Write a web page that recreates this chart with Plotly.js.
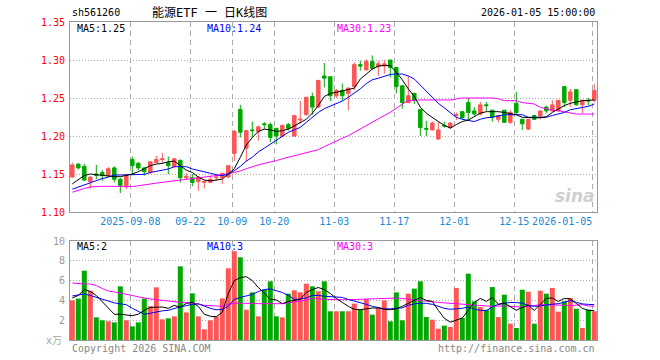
<!DOCTYPE html>
<html>
<head>
<meta charset="utf-8">
<script src="https://cdn.plot.ly/plotly-3.0.1.min.js"></script>
<style>html,body{margin:0;padding:0;background:#fff;}#chart{width:660px;height:360px;}</style>
</head>
<body>
<div id="chart"></div>
<script>
// ---- data ----
const dates = [
 '2025-08-25','2025-08-26','2025-08-27','2025-08-28','2025-08-29',
 '2025-09-01','2025-09-02','2025-09-03','2025-09-04','2025-09-05',
 '2025-09-08','2025-09-09','2025-09-10','2025-09-11','2025-09-12',
 '2025-09-15','2025-09-16','2025-09-17','2025-09-18','2025-09-19',
 '2025-09-22','2025-09-23','2025-09-24','2025-09-25','2025-09-26',
 '2025-09-29','2025-09-30','2025-10-09','2025-10-10','2025-10-13',
 '2025-10-14','2025-10-15','2025-10-16','2025-10-17','2025-10-20',
 '2025-10-21','2025-10-22','2025-10-23','2025-10-24','2025-10-27',
 '2025-10-28','2025-10-29','2025-10-30','2025-10-31','2025-11-03',
 '2025-11-04','2025-11-05','2025-11-06','2025-11-07','2025-11-10',
 '2025-11-11','2025-11-12','2025-11-13','2025-11-14','2025-11-17',
 '2025-11-18','2025-11-19','2025-11-20','2025-11-21','2025-11-24',
 '2025-11-25','2025-11-26','2025-11-27','2025-11-28','2025-12-01',
 '2025-12-02','2025-12-03','2025-12-04','2025-12-05','2025-12-08',
 '2025-12-09','2025-12-10','2025-12-11','2025-12-12','2025-12-15',
 '2025-12-16','2025-12-17','2025-12-18','2025-12-19','2025-12-22',
 '2025-12-23','2025-12-24','2025-12-25','2025-12-26','2025-12-29',
 '2025-12-30','2025-12-31','2026-01-05'];

const open = [1.146,1.163,1.160,1.140,1.150,1.152,1.148,1.158,1.143,1.133,
 1.169,1.164,1.158,1.152,1.165,1.169,1.165,1.160,1.168,1.145,
 1.145,1.140,1.139,1.139,1.145,1.145,1.146,1.177,1.235,1.184,
 1.208,1.206,1.216,1.215,1.210,1.200,1.215,1.200,1.221,1.228,
 1.252,1.238,1.279,1.278,1.253,1.260,1.256,1.265,1.294,1.287,
 1.298,1.291,1.292,1.300,1.290,1.266,1.244,1.256,1.235,1.210,
 1.208,1.196,1.214,1.211,1.227,1.232,1.244,1.233,1.229,1.241,
 1.234,1.222,1.234,1.218,1.243,1.222,1.209,1.227,1.226,1.238,
 1.233,1.233,1.265,1.247,1.261,1.241,1.247,1.247];
const high = [1.165,1.164,1.163,1.147,1.162,1.155,1.159,1.160,1.145,1.148,
 1.173,1.166,1.159,1.167,1.174,1.178,1.173,1.171,1.169,1.151,
 1.150,1.147,1.142,1.148,1.150,1.151,1.161,1.208,1.241,1.208,
 1.219,1.214,1.218,1.218,1.211,1.215,1.217,1.227,1.246,1.251,
 1.257,1.274,1.296,1.278,1.262,1.269,1.264,1.297,1.299,1.301,
 1.306,1.299,1.300,1.300,1.290,1.267,1.279,1.257,1.235,1.220,
 1.219,1.219,1.219,1.218,1.231,1.232,1.250,1.238,1.245,1.245,
 1.234,1.227,1.234,1.234,1.258,1.222,1.222,1.227,1.233,1.240,
 1.247,1.247,1.265,1.262,1.261,1.247,1.250,1.268];
const low = [1.145,1.156,1.141,1.131,1.143,1.141,1.146,1.139,1.125,1.130,
 1.149,1.155,1.148,1.150,1.164,1.164,1.150,1.158,1.139,1.143,
 1.134,1.128,1.131,1.138,1.141,1.137,1.145,1.167,1.198,1.166,
 1.198,1.194,1.209,1.192,1.189,1.198,1.207,1.199,1.216,1.227,
 1.228,1.237,1.264,1.246,1.250,1.246,1.234,1.260,1.286,1.286,
 1.287,1.279,1.282,1.277,1.256,1.236,1.243,1.242,1.200,1.200,
 1.207,1.195,1.211,1.209,1.221,1.222,1.221,1.227,1.227,1.233,
 1.219,1.218,1.217,1.216,1.229,1.208,1.208,1.221,1.222,1.230,
 1.232,1.232,1.238,1.238,1.240,1.230,1.240,1.244];
const close = [1.162,1.158,1.142,1.146,1.148,1.148,1.157,1.143,1.135,1.148,
 1.161,1.158,1.153,1.166,1.169,1.170,1.161,1.170,1.145,1.147,
 1.139,1.146,1.140,1.143,1.146,1.151,1.161,1.206,1.205,1.207,
 1.207,1.212,1.215,1.198,1.200,1.214,1.210,1.227,1.222,1.251,
 1.238,1.273,1.276,1.253,1.260,1.253,1.263,1.294,1.292,1.298,
 1.289,1.295,1.295,1.290,1.265,1.244,1.253,1.247,1.211,1.209,
 1.217,1.208,1.213,1.217,1.228,1.224,1.231,1.229,1.241,1.240,
 1.225,1.227,1.218,1.231,1.231,1.216,1.222,1.222,1.233,1.233,
 1.241,1.247,1.244,1.258,1.241,1.247,1.246,1.260];

const ma5 = [1.137,1.143,1.148,1.150,1.149,1.148,1.147,1.1465,1.1465,1.148,
 1.150,1.153,1.157,1.161,1.163,1.164,1.166,1.167,1.161,1.155,
 1.152,1.146,1.142,1.141,1.142,1.1434,1.150,1.157,1.172,1.188,
 1.198,1.206,1.209,1.208,1.206,1.207,1.209,1.213,1.218,1.222,
 1.230,1.240,1.252,1.256,1.2575,1.259,1.261,1.263,1.275,1.282,
 1.288,1.292,1.293,1.2925,1.284,1.274,1.262,1.252,1.238,1.230,
 1.224,1.219,1.214,1.2105,1.215,1.219,1.221,1.226,1.230,1.232,
 1.232,1.232,1.231,1.2298,1.228,1.2246,1.224,1.224,1.224,1.2254,
 1.231,1.236,1.240,1.243,1.245,1.2465,1.247,1.2474];
const ma10 = [1.130,1.133,1.136,1.139,1.142,1.144,1.146,1.1487,1.1487,1.1487,
 1.1487,1.1487,1.1495,1.152,1.154,1.155,1.1566,1.1596,1.1596,1.1596,
 1.1566,1.155,1.153,1.151,1.149,1.1478,1.150,1.1544,1.160,1.167,
 1.172,1.179,1.184,1.189,1.194,1.199,1.2048,1.208,1.2114,1.218,
 1.2246,1.231,1.236,1.239,1.242,1.246,1.251,1.256,1.262,1.269,
 1.274,1.276,1.278,1.281,1.2816,1.2816,1.279,1.275,1.267,1.259,
 1.251,1.243,1.237,1.231,1.2246,1.222,1.220,1.219,1.222,1.224,
 1.2246,1.2262,1.228,1.228,1.228,1.228,1.2246,1.2246,1.2246,1.2246,
 1.227,1.2285,1.231,1.2346,1.236,1.237,1.239,1.242];
const ma30 = [1.126,1.129,1.131,1.133,1.1338,1.1338,1.1338,1.1338,1.1338,1.1335,
 1.1335,1.1345,1.136,1.137,1.138,1.139,1.140,1.1415,1.142,1.143,
 1.1445,1.1456,1.1462,1.147,1.148,1.149,1.150,1.1522,1.154,1.157,
 1.160,1.162,1.164,1.1654,1.1676,1.170,1.172,1.174,1.176,1.178,
 1.180,1.182,1.186,1.190,1.1939,1.197,1.2004,1.205,1.2092,1.214,
 1.218,1.2225,1.227,1.2311,1.237,1.242,1.2465,1.2474,1.2474,1.2474,
 1.2474,1.2474,1.2474,1.2474,1.2487,1.250,1.250,1.250,1.250,1.250,
 1.250,1.249,1.2465,1.2465,1.2465,1.2439,1.243,1.2421,1.2377,1.2355,
 1.234,1.2333,1.232,1.2303,1.2289,1.2289,1.2289,1.2289];

const volume = [4.0,4.18,7.0,4.98,2.29,1.99,1.89,1.78,5.42,1.99,
 1.38,1.78,4.18,3.4,5.32,2.09,2.19,2.39,7.44,2.79,
 4.71,2.39,1.08,1.99,2.39,4.21,7.24,8.96,8.35,3.06,
 4.81,2.39,5.08,5.93,2.39,2.29,4.68,5.02,4.81,5.69,
 5.42,4.92,5.93,2.9,2.9,2.9,2.9,3.67,3.06,4.14,
 2.56,3.2,4.0,1.89,4.81,1.99,4.68,5.19,5.93,2.32,
 2.05,1.14,1.45,1.31,5.25,2.22,6.7,3.9,3.33,3.06,
 5.35,2.32,4.58,1.65,1.21,5.08,4.88,1.65,4.98,4.68,
 5.25,2.86,3.9,4.24,3.16,1.21,3.06,2.9];
const volMa5 = [4.24,4.5,5.1,4.9,4.5,3.9,3.2,2.6,2.6,2.5,
 2.46,2.6,3.0,3.3,3.3,3.33,3.2,3.5,3.3,3.7,
 3.8,3.4,2.6,2.4,2.35,2.8,4.7,6.0,6.3,6.4,
 6.0,5.3,4.75,4.1,4.05,3.67,3.9,4.0,4.1,4.8,
 5.1,5.3,5.1,4.7,4.2,3.8,3.4,3.1,3.06,3.15,
 3.23,3.23,3.1,3.06,3.15,3.4,3.7,4.0,4.3,4.0,
 3.9,3.0,2.2,1.8,2.0,2.22,3.0,3.8,4.2,3.9,
 4.3,3.6,3.74,3.4,3.0,3.3,3.5,3.0,3.6,4.2,
 4.24,3.9,4.2,4.15,3.7,3.2,3.0,2.96];
const volMa10 = [4.45,4.55,4.65,4.5,4.3,4.1,3.9,3.75,3.65,3.57,
 3.2,2.9,2.6,2.7,2.85,2.95,3.0,3.2,3.35,3.47,
 3.6,3.65,3.4,3.2,3.05,3.1,3.4,4.1,4.3,4.45,
 4.6,4.9,5.1,5.15,5.0,4.8,4.5,4.1,4.15,4.25,
 4.5,4.5,4.42,4.4,4.35,4.3,4.1,3.95,3.8,3.6,
 3.4,3.25,3.15,3.15,3.2,3.25,3.5,3.65,3.72,3.7,
 3.6,3.4,3.2,3.1,3.13,3.2,3.33,3.1,3.0,2.96,
 3.35,3.6,3.7,3.8,3.78,3.72,3.5,3.4,3.45,3.57,
 3.62,3.67,3.8,3.97,3.8,3.65,3.6,3.57];
const volMa30 = [5.75,5.68,5.66,5.66,5.5,5.2,4.95,4.85,4.75,4.65,
 4.5,4.35,4.22,4.15,4.08,4.0,3.9,3.82,3.8,3.77,
 3.74,3.65,3.5,3.45,3.42,3.4,3.6,3.7,3.72,3.74,
 3.7,3.67,3.67,3.67,3.67,3.67,3.75,3.85,3.9,4.05,
 4.2,4.2,4.1,4.07,4.07,4.07,4.07,4.1,4.12,4.14,
 4.18,4.22,4.24,4.24,4.24,4.2,4.1,4.0,3.97,3.93,
 3.9,3.8,3.75,3.7,3.68,3.65,3.6,3.57,3.5,3.42,
 3.4,3.42,3.45,3.4,3.35,3.33,3.4,3.5,3.57,3.57,
 3.57,3.55,3.5,3.47,3.52,3.57,3.45,3.4];

const tickDates  = ['2025-09-08','2025-09-22','2025-10-09','2025-10-20','2025-11-03','2025-11-17','2025-12-01','2025-12-15','2026-01-05'];
const tickLabels = ['2025-09-08','09-22','10-09','10-20','11-03','11-17','12-01','12-15','2026-01-05'];
const priceTicks = [1.10,1.15,1.20,1.25,1.30,1.35];
const volTicks = [2,4,6,8,10];

const headerCode = 'sh561260';
const headerTitle = '能源ETF 一 日K线图';
const headerTime = '2026-01-05 15:00:00';
const maPriceLabels = ['MA5:1.25','MA10:1.24','MA30:1.23'];
const maVolLabels = ['MA5:2','MA10:3','MA30:3'];

// ---- drawing ----
const MONO = 'DejaVu Sans Mono, monospace';
const RED = '#ff5555', GREEN = '#00a800';
const idx = dates.map((d, i) => i);
const tickIdx = tickDates.map(d => dates.indexOf(d) - 0.33);
const tickText = tickLabels.map((t, i) => i === tickLabels.length - 1 ? t + '\u00a0'.repeat(t.length) : t);
const volColors = idx.map(i => close[i] >= open[i] ? RED : GREEN);

const traces = [
  {type:'candlestick', x:idx, open:open, high:high, low:low, close:close,
   xaxis:'x', yaxis:'y', whiskerwidth:0,
   increasing:{line:{color:RED, width:1}, fillcolor:RED},
   decreasing:{line:{color:GREEN, width:1}, fillcolor:GREEN},
   hoverinfo:'skip'},
  {type:'scatter', mode:'lines', x:idx, y:ma30, xaxis:'x', yaxis:'y', line:{color:'#ff00ff', width:1}},
  {type:'scatter', mode:'lines', x:idx, y:ma10, xaxis:'x', yaxis:'y', line:{color:'#0000ff', width:1}},
  {type:'scatter', mode:'lines', x:idx, y:ma5, xaxis:'x', yaxis:'y', line:{color:'#000000', width:1}},
  {type:'bar', x:idx, y:volume, xaxis:'x2', yaxis:'y2', marker:{color:volColors, line:{width:0}}},
  {type:'scatter', mode:'lines', x:idx, y:volMa30, xaxis:'x2', yaxis:'y2', line:{color:'#ff00ff', width:1}},
  {type:'scatter', mode:'lines', x:idx, y:volMa10, xaxis:'x2', yaxis:'y2', line:{color:'#0000ff', width:1}},
  {type:'scatter', mode:'lines', x:idx, y:volMa5, xaxis:'x2', yaxis:'y2', line:{color:'#000000', width:1}}
];

const PH = 318; // plot height in px
const pyPaper = px => (340 - px) / PH;   // page y (px) -> paper y
const pxPaper = px => (px - 70) / 527;    // page x (px) -> paper x

function ann(text, xpx, ypx, color, size, anchor, family) {
  return {text:text, xref:'paper', yref:'paper', x:pxPaper(xpx), y:pyPaper(ypx),
          xanchor:anchor || 'left', yanchor:'middle', showarrow:false,
          font:{family:family || MONO, size:size || 10, color:color}};
}

const annotations = [
  ann(headerCode, 70, 13, '#000'),
  ann(headerTitle, 150, 13, '#000', 12, 'left', 'DejaVu Sans Mono, Noto Sans CJK SC'),
  ann(headerTime, 597, 13, '#000', 10, 'right'),
  ann(maPriceLabels[0], 75, 28, '#000'),
  ann(maPriceLabels[1], 205, 28, '#0000ff'),
  ann(maPriceLabels[2], 335, 28, '#ff00ff'),
  ann(maVolLabels[0], 75, 246, '#000'),
  ann(maVolLabels[1], 205, 246, '#0000ff'),
  ann(maVolLabels[2], 335, 246, '#ff00ff'),
  ann('Copyright 2026 SINA.COM', 70, 348, '#888'),
  ann('http://finance.sina.com.cn', 597, 348, '#888', 10, 'right'),
  ann('x万', 64, 340, '#aaa', 10, 'right', 'DejaVu Sans, Noto Sans CJK SC'),
  {text:'<b><i>sina</i></b>', xref:'paper', yref:'paper', x:pxPaper(597), y:pyPaper(196),
   xanchor:'right', yanchor:'middle', showarrow:false,
   font:{family:'DejaVu Sans', size:17, color:'#d0d0d0'}}
];

const xBase = {
  range:[-0.383, 87.45], tickmode:'array', tickvals:tickIdx, ticktext:tickText,
  showgrid:true, gridcolor:'#aaaaaa', griddash:'5px,4px', gridwidth:1,
  showline:true, linecolor:'#999999', linewidth:1, mirror:true,
  ticks:'', zeroline:false, tickangle:0, fixedrange:true
};

const layout = {
  width:660, height:360,
  margin:{l:70, r:63, t:22, b:20, pad:0},
  paper_bgcolor:'#ffffff', plot_bgcolor:'#ffffff',
  showlegend:false, hovermode:false,
  boxgap:0.17, bargap:0.17,
  xaxis:Object.assign({}, xBase, {anchor:'y', domain:[0,1],
     tickfont:{family:MONO, size:10, color:'#1a8ad4'}, rangeslider:{visible:false}}),
  xaxis2:Object.assign({}, xBase, {anchor:'y2', domain:[0,1], matches:'x', showticklabels:false}),
  yaxis:{domain:[pyPaper(212), 1], range:[1.10, 1.35], tickmode:'array', tickvals:priceTicks,
     ticktext:priceTicks.map(v => v.toFixed(2)), tickfont:{family:MONO, size:10, color:'#ff0000'},
     showgrid:true, gridcolor:'#aaaaaa', griddash:'1px,2px', showline:true, linecolor:'#999999',
     mirror:true, ticks:'', zeroline:false, fixedrange:true, ticklabelstandoff:2},
  yaxis2:{domain:[0, pyPaper(241)], range:[0, 10], tickmode:'array', tickvals:volTicks,
     ticktext:volTicks.map(String), tickfont:{family:MONO, size:10, color:'#999999'},
     showgrid:true, gridcolor:'#aaaaaa', griddash:'1px,2px', showline:true, linecolor:'#999999',
     mirror:true, ticks:'', zeroline:false, fixedrange:true, ticklabelstandoff:2},
  annotations:annotations
};

Plotly.newPlot('chart', traces, layout, {staticPlot:true, displayModeBar:false});
</script>
</body>
</html>
